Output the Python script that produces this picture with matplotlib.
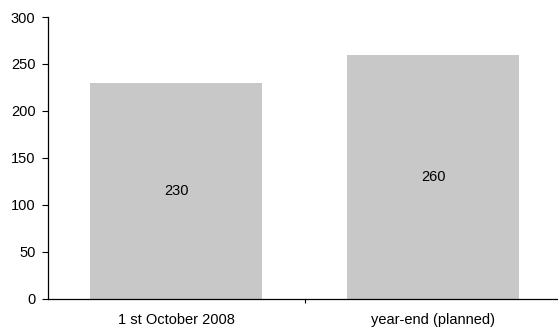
import matplotlib.pyplot as plt
import numpy as np

plt.rcParams['font.family'] = ['Liberation Sans', 'DejaVu Sans']

categories = ['1 st October 2008', 'year-end (planned)']
values = [230, 260]

fig = plt.figure(figsize=(5.58, 3.27), dpi=100)
ax = fig.add_axes([0.086, 0.086, 0.92, 0.862])

x = np.arange(len(categories))
bars = ax.bar(x, values, width=0.67, color='#c8c8c8', zorder=2)
for b, v in zip(bars, values):
    ax.text(b.get_x() + b.get_width() / 2, v / 2, str(v),
            ha='center', va='center', fontsize=10.5, color='black')

ax.set_xlim(-0.5, len(categories) - 0.5)
ax.set_ylim(0, 300)
ax.set_yticks(range(0, 301, 50))
ax.tick_params(axis='y', direction='out', length=4, width=0.8, labelsize=10.5, pad=5)

# category labels centred under bars, tick marks between categories
ax.set_xticks(x + 0.5)
ax.set_xticklabels([])
ax.set_xticks(x, minor=True)
ax.set_xticklabels(categories, minor=True, fontsize=10.5)
ax.tick_params(axis='x', which='major', direction='out', length=3, width=0.8)
ax.tick_params(axis='x', which='minor', length=0, pad=10)

for s in ['top', 'right']:
    ax.spines[s].set_visible(False)
for s in ['left', 'bottom']:
    ax.spines[s].set_linewidth(0.9)

fig.savefig('out.png', dpi=100)
